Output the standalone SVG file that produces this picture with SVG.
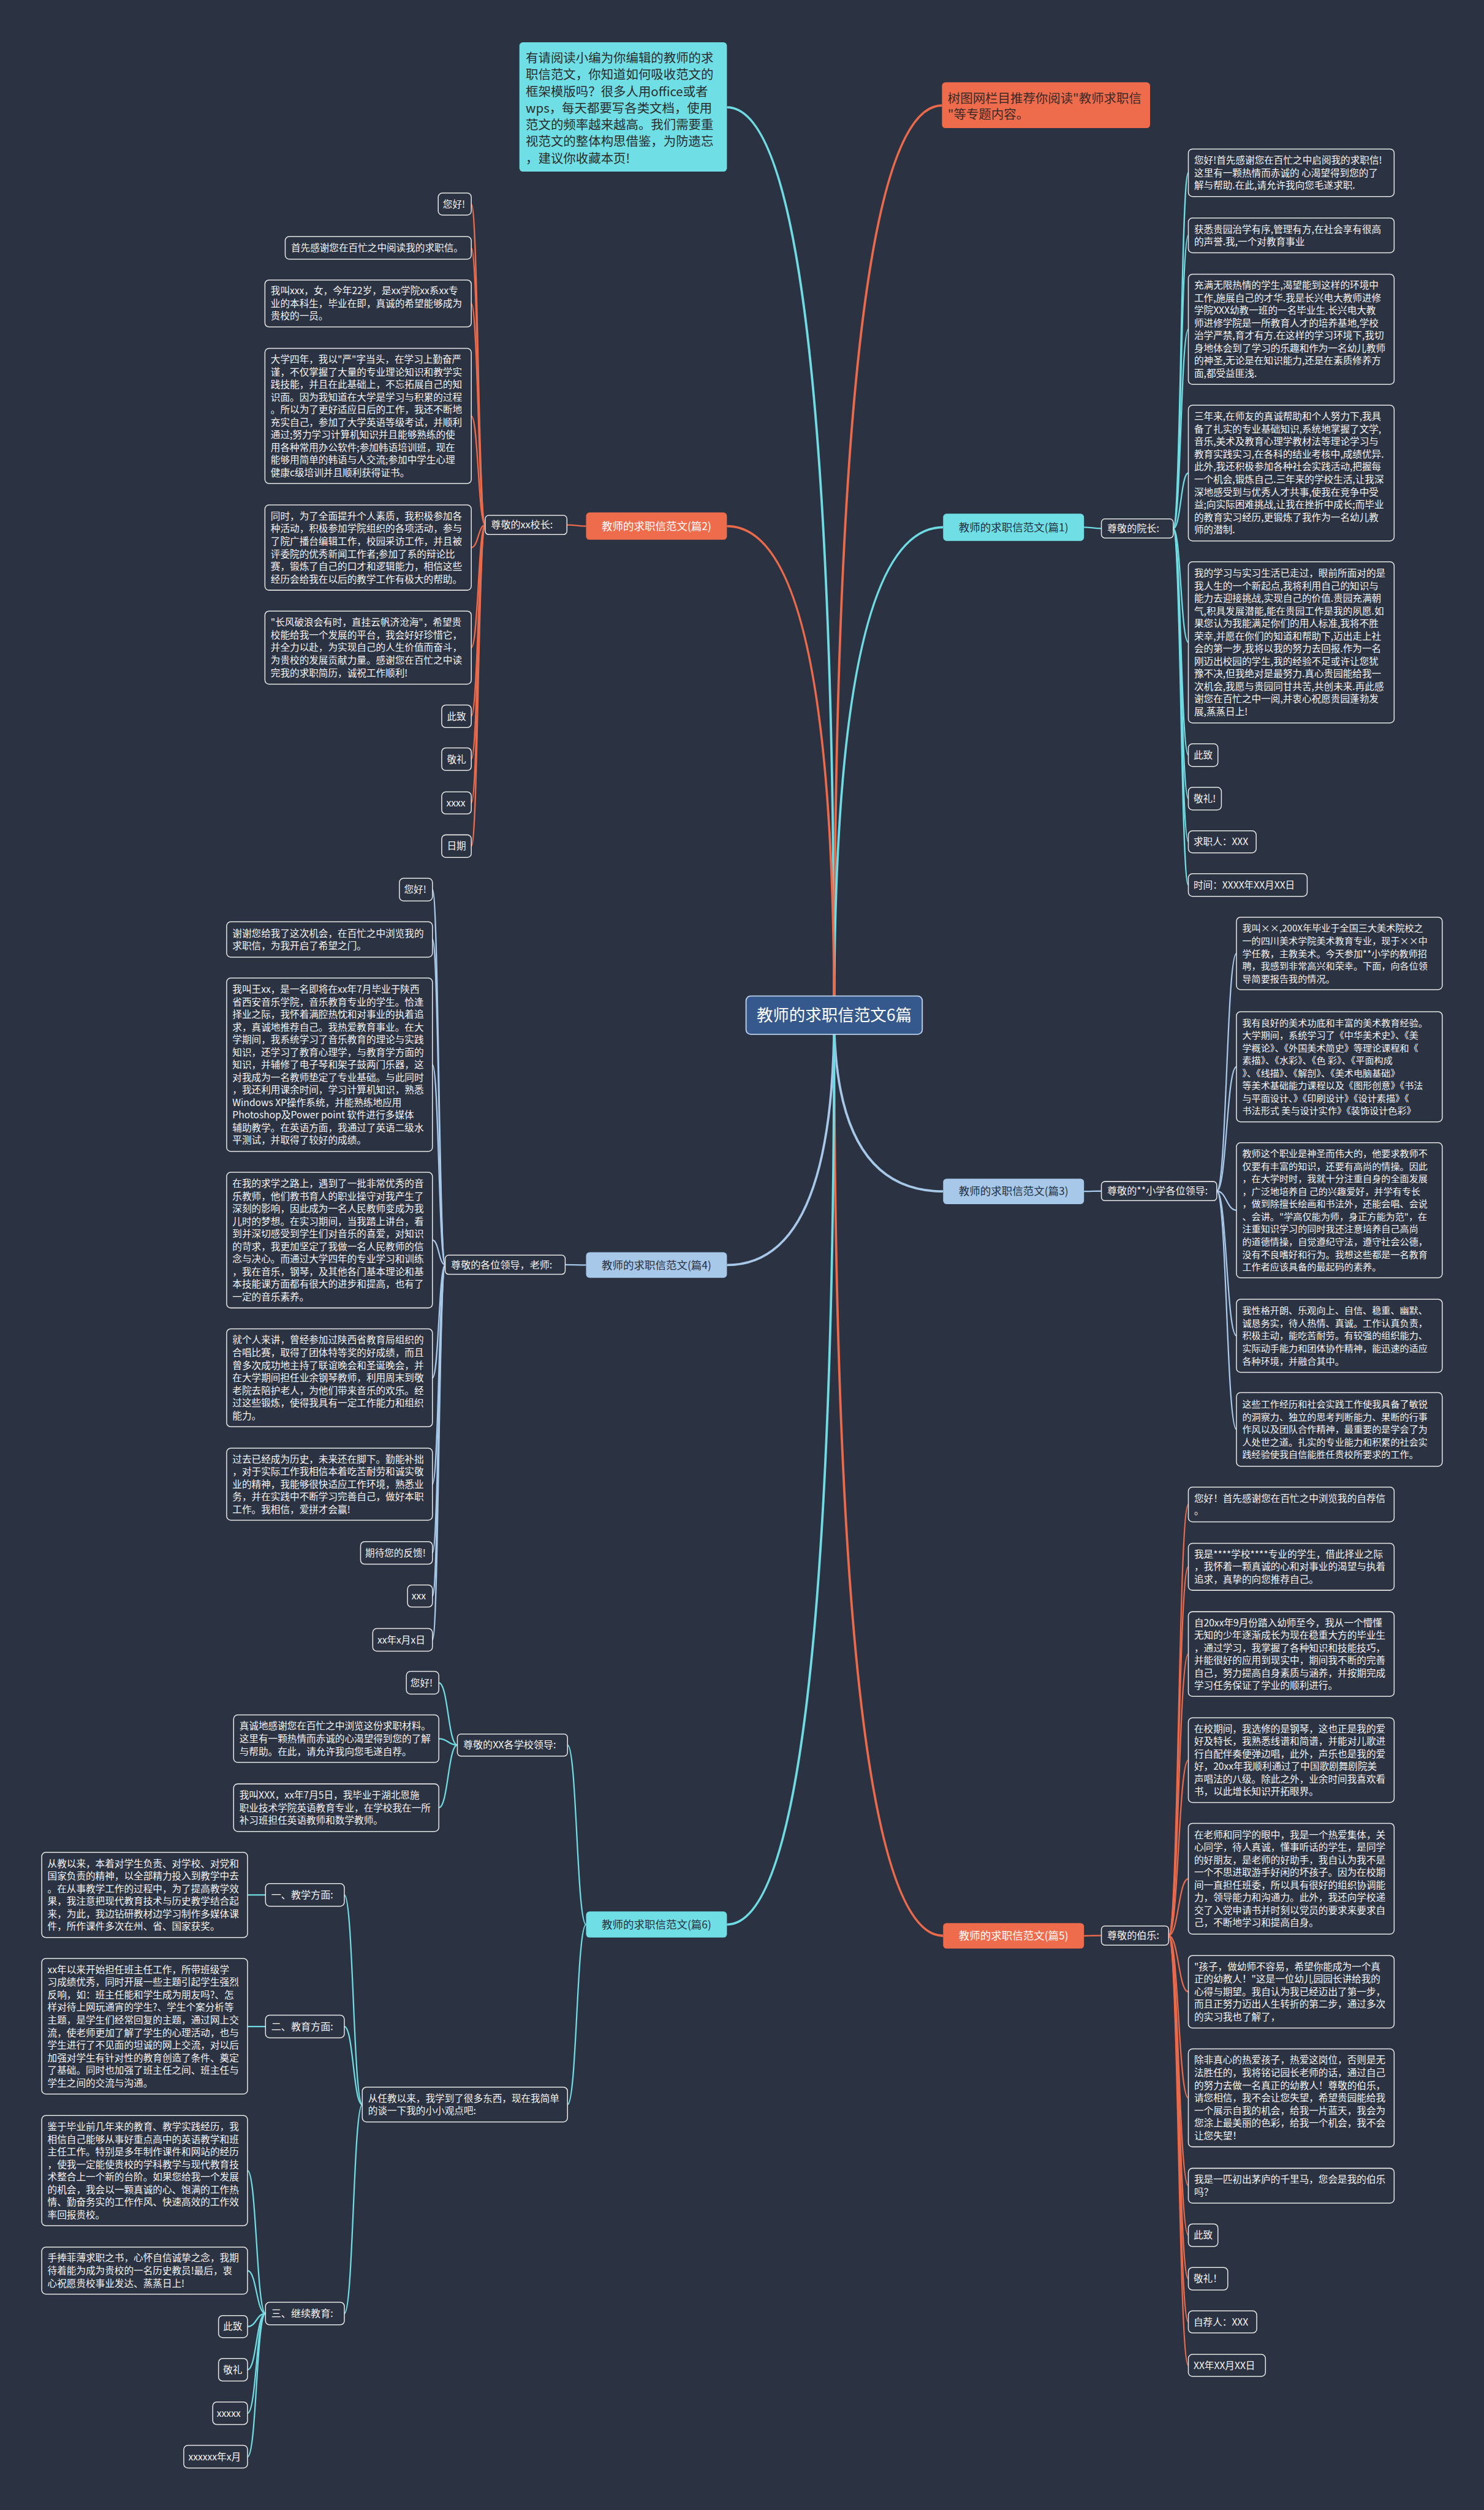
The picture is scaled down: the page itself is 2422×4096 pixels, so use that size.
<svg xmlns="http://www.w3.org/2000/svg" width="2422" height="4096" viewBox="0 0 2422 4096">
<style>
.leaf{fill:#2b3242;stroke:#e6e6e6;stroke-width:1.6}
.t{font-family:"Noto Sans CJK SC","Noto Sans",sans-serif;font-size:16.5px;fill:#f4f4f4}
.t3{font-size:16px}
.lbl{font-family:"Noto Sans CJK SC","Noto Sans",sans-serif;font-size:17px;fill:#f4f4f4}
.br{font-family:"Noto Sans CJK SC","Noto Sans",sans-serif;font-size:18.5px;text-anchor:middle}
.dark{fill:#263040}
.light{fill:#ffffff}
.cy{fill:#6fdfe5}
.or{fill:#ee6b4b}
.lb{fill:#a7c8e9}
.c-cy{fill:none;stroke:#6fdce3}
.c-or{fill:none;stroke:#ea6a4b}
.c-lb{fill:none;stroke:#a7c8e9}
.main{stroke-width:4}
.sub{stroke-width:2.4}
</style>
<rect x="0" y="0" width="2422" height="4096" fill="#2b3242"/>
<g transform="scale(0.94609)">
<g id="connectors">
<path class="c-cy main" d="M1439 1751 Q1439 185 1254 185"/>
<path class="c-or main" d="M1439 1751 Q1439 182 1625 182"/>
<path class="c-cy main" d="M1439 1751 Q1439 909.5 1627 909.5"/>
<path class="c-or main" d="M1439 1751 Q1439 907.5 1254 907.5"/>
<path class="c-lb main" d="M1439 1751 Q1439 2055 1627 2055"/>
<path class="c-lb main" d="M1439 1751 Q1439 2182 1254 2182"/>
<path class="c-or main" d="M1439 1751 Q1439 3339 1627 3339"/>
<path class="c-cy main" d="M1439 1751 Q1439 3319.5 1254 3319.5"/>
<path class="c-cy sub" d="M1870 909.5 C1885 909.5 1885 911.5 1900 911.5"/>
<path class="c-or sub" d="M1011 907.5 C995 907.5 995 905.5 978 905.5"/>
<path class="c-lb sub" d="M1870 2055 C1885 2055 1885 2054.5 1900 2054.5"/>
<path class="c-lb sub" d="M1011 2182 C993 2182 993 2181.5 975 2181.5"/>
<path class="c-or sub" d="M1870 3339 C1885 3339 1885 3338.5 1900 3338.5"/>
<path class="c-cy sub" d="M2024 911.5 C2037 911.5 2037 298 2050 298"/>
<path class="c-cy sub" d="M2024 911.5 C2037 911.5 2037 406 2050 406"/>
<path class="c-cy sub" d="M2024 911.5 C2037 911.5 2037 568 2050 568"/>
<path class="c-cy sub" d="M2024 911.5 C2037 911.5 2037 816 2050 816"/>
<path class="c-cy sub" d="M2024 911.5 C2037 911.5 2037 1108 2050 1108"/>
<path class="c-cy sub" d="M2024 911.5 C2037 911.5 2037 1302.5 2050 1302.5"/>
<path class="c-cy sub" d="M2024 911.5 C2037 911.5 2037 1377.5 2050 1377.5"/>
<path class="c-cy sub" d="M2024 911.5 C2037 911.5 2037 1452 2050 1452"/>
<path class="c-cy sub" d="M2024 911.5 C2037 911.5 2037 1526.5 2050 1526.5"/>
<path class="c-or sub" d="M837 905.5 C825 905.5 825 352 813 352"/>
<path class="c-or sub" d="M837 905.5 C825 905.5 825 427.5 813 427.5"/>
<path class="c-or sub" d="M837 905.5 C825 905.5 825 523.5 813 523.5"/>
<path class="c-or sub" d="M837 905.5 C825 905.5 825 717.5 813 717.5"/>
<path class="c-or sub" d="M837 905.5 C825 905.5 825 944.5 813 944.5"/>
<path class="c-or sub" d="M837 905.5 C825 905.5 825 1117 813 1117"/>
<path class="c-or sub" d="M837 905.5 C825 905.5 825 1235.5 813 1235.5"/>
<path class="c-or sub" d="M837 905.5 C825 905.5 825 1309.5 813 1309.5"/>
<path class="c-or sub" d="M837 905.5 C825 905.5 825 1385 813 1385"/>
<path class="c-or sub" d="M837 905.5 C825 905.5 825 1459.5 813 1459.5"/>
<path class="c-lb sub" d="M2099 2054.5 C2116 2054.5 2116 1644.5 2133 1644.5"/>
<path class="c-lb sub" d="M2099 2054.5 C2116 2054.5 2116 1840 2133 1840"/>
<path class="c-lb sub" d="M2099 2054.5 C2116 2054.5 2116 2087.5 2133 2087.5"/>
<path class="c-lb sub" d="M2099 2054.5 C2116 2054.5 2116 2304 2133 2304"/>
<path class="c-lb sub" d="M2099 2054.5 C2116 2054.5 2116 2465.5 2133 2465.5"/>
<path class="c-lb sub" d="M768 2181.5 C757 2181.5 757 1534.5 746 1534.5"/>
<path class="c-lb sub" d="M768 2181.5 C757 2181.5 757 1620.5 746 1620.5"/>
<path class="c-lb sub" d="M768 2181.5 C757 2181.5 757 1836.5 746 1836.5"/>
<path class="c-lb sub" d="M768 2181.5 C757 2181.5 757 2139 746 2139"/>
<path class="c-lb sub" d="M768 2181.5 C757 2181.5 757 2376.5 746 2376.5"/>
<path class="c-lb sub" d="M768 2181.5 C757 2181.5 757 2560 746 2560"/>
<path class="c-lb sub" d="M768 2181.5 C757 2181.5 757 2678.5 746 2678.5"/>
<path class="c-lb sub" d="M768 2181.5 C757 2181.5 757 2753 746 2753"/>
<path class="c-lb sub" d="M768 2181.5 C757 2181.5 757 2828.5 746 2828.5"/>
<path class="c-or sub" d="M2016 3338.5 C2033 3338.5 2033 2595 2050 2595"/>
<path class="c-or sub" d="M2016 3338.5 C2033 3338.5 2033 2702.5 2050 2702.5"/>
<path class="c-or sub" d="M2016 3338.5 C2033 3338.5 2033 2853 2050 2853"/>
<path class="c-or sub" d="M2016 3338.5 C2033 3338.5 2033 3036 2050 3036"/>
<path class="c-or sub" d="M2016 3338.5 C2033 3338.5 2033 3240.5 2050 3240.5"/>
<path class="c-or sub" d="M2016 3338.5 C2033 3338.5 2033 3435.5 2050 3435.5"/>
<path class="c-or sub" d="M2016 3338.5 C2033 3338.5 2033 3618.5 2050 3618.5"/>
<path class="c-or sub" d="M2016 3338.5 C2033 3338.5 2033 3770 2050 3770"/>
<path class="c-or sub" d="M2016 3338.5 C2033 3338.5 2033 3855.5 2050 3855.5"/>
<path class="c-or sub" d="M2016 3338.5 C2033 3338.5 2033 3930.5 2050 3930.5"/>
<path class="c-or sub" d="M2016 3338.5 C2033 3338.5 2033 4005 2050 4005"/>
<path class="c-or sub" d="M2016 3338.5 C2033 3338.5 2033 4080 2050 4080"/>
<path class="c-cy sub" d="M1011 3319.5 C995 3319.5 995 3010 979 3010"/>
<path class="c-cy sub" d="M1011 3319.5 C995 3319.5 995 3630 979 3630"/>
<path class="c-cy sub" d="M789 3010 C773 3010 773 2902.5 757 2902.5"/>
<path class="c-cy sub" d="M789 3010 C773 3010 773 2999 757 2999"/>
<path class="c-cy sub" d="M789 3010 C773 3010 773 3118 757 3118"/>
<path class="c-cy sub" d="M625 3630 C609.5 3630 609.5 3268.5 594 3268.5"/>
<path class="c-cy sub" d="M625 3630 C609.5 3630 609.5 3495.5 594 3495.5"/>
<path class="c-cy sub" d="M625 3630 C609.5 3630 609.5 3990.5 594 3990.5"/>
<path class="c-cy sub" d="M458 3268.5 L427 3268.5"/>
<path class="c-cy sub" d="M458 3495.5 L427 3495.5"/>
<path class="c-cy sub" d="M458 3990.5 C442.5 3990.5 442.5 3744 427 3744"/>
<path class="c-cy sub" d="M458 3990.5 C442.5 3990.5 442.5 3916.5 427 3916.5"/>
<path class="c-cy sub" d="M458 3990.5 C442.5 3990.5 442.5 4013 427 4013"/>
<path class="c-cy sub" d="M458 3990.5 C442.5 3990.5 442.5 4087.5 427 4087.5"/>
<path class="c-cy sub" d="M458 3990.5 C442.5 3990.5 442.5 4162.5 427 4162.5"/>
<path class="c-cy sub" d="M458 3990.5 C442.5 3990.5 442.5 4237.5 427 4237.5"/>
</g>

<g id="center"><rect x="1287" y="1718" width="304" height="66" rx="8" fill="#35598c" stroke="#bcd0ec" stroke-width="2"/><text class="br" x="1439" y="1761" style="font-size:28px" fill="#ffffff">教师的求职信范文6篇</text></g>

<g id="intro-left"><rect x="896" y="73" width="358" height="223" rx="6" class="cy"/>
<text class="t" style="font-size:21.6px;fill:#2b2b2b" x="907" y="108"><tspan x="907" dy="0">有请阅读小编为你编辑的教师的求</tspan><tspan x="907" dy="28.8">职信范文，你知道如何吸收范文的</tspan><tspan x="907" dy="28.8">框架模版吗？很多人用office或者</tspan><tspan x="907" dy="28.8">wps，每天都要写各类文档，使用</tspan><tspan x="907" dy="28.8">范文的频率越来越高。我们需要重</tspan><tspan x="907" dy="28.8">视范文的整体构思借鉴，为防遗忘</tspan><tspan x="907" dy="28.8">，建议你收藏本页!</tspan></text></g>

<g id="intro-right"><rect x="1625" y="142" width="359" height="79" rx="6" class="or"/>
<text class="t" style="font-size:21.6px;fill:#3a2a28" x="1635" y="178"><tspan x="1635" dy="0">树图网栏目推荐你阅读"教师求职信</tspan><tspan x="1635" dy="27">"等专题内容。</tspan></text></g>

<g id="b1"><rect x="1627" y="886" width="243" height="47" rx="6" class="cy"/><text class="br dark" x="1748.5" y="916">教师的求职信范文(篇1)</text></g>
<g id="b2"><rect x="1011" y="884" width="243" height="47" rx="6" class="or"/><text class="br light" x="1132.5" y="914">教师的求职信范文(篇2)</text></g>
<g id="b3"><rect x="1627" y="2033" width="243" height="44" rx="6" class="lb"/><text class="br dark" x="1748.5" y="2061.5">教师的求职信范文(篇3)</text></g>
<g id="b4"><rect x="1011" y="2160" width="243" height="44" rx="6" class="lb"/><text class="br dark" x="1132.5" y="2188.5">教师的求职信范文(篇4)</text></g>
<g id="b5"><rect x="1627" y="3317" width="243" height="44" rx="6" class="or"/><text class="br light" x="1748.5" y="3345.5">教师的求职信范文(篇5)</text></g>
<g id="b6"><rect x="1011" y="3297" width="243" height="45" rx="6" class="cy"/><text class="br dark" x="1132.5" y="3326">教师的求职信范文(篇6)</text></g>

<g id="l1"><rect x="1900" y="895" width="124" height="33" rx="6" class="leaf"/><text class="lbl" x="1910" y="917.5">尊敬的院长:</text></g>
<g id="l2"><rect x="837" y="889" width="141" height="33" rx="6" class="leaf"/><text class="lbl" x="847" y="911.5">尊敬的xx校长:</text></g>
<g id="l3"><rect x="1900" y="2038" width="199" height="33" rx="6" class="leaf"/><text class="lbl" x="1910" y="2060.5">尊敬的**小学各位领导:</text></g>
<g id="l4"><rect x="768" y="2165" width="207" height="33" rx="6" class="leaf"/><text class="lbl" x="778" y="2187.5">尊敬的各位领导，老师:</text></g>
<g id="l5"><rect x="1900" y="3322" width="116" height="33" rx="6" class="leaf"/><text class="lbl" x="1910" y="3344.5">尊敬的伯乐:</text></g>
<g id="l6"><rect x="789" y="2991" width="190" height="38" rx="6" class="leaf"/><text class="lbl" x="799" y="3016">尊敬的XX各学校领导:</text></g>

<g id="p1-1"><rect x="2050" y="257" width="355" height="82" rx="7" class="leaf"/><text class="t" x="2060" y="282.3"><tspan x="2060" dy="0">您好!首先感谢您在百忙之中启阅我的求职信!</tspan><tspan x="2060" dy="21.7">这里有一颗热情而赤诚的 心渴望得到您的了</tspan><tspan x="2060" dy="21.7">解与帮助.在此,请允许我向您毛遂求职.</tspan></text></g>
<g id="p1-2"><rect x="2050" y="376" width="355" height="60" rx="7" class="leaf"/><text class="t" x="2060" y="401.2"><tspan x="2060" dy="0">获悉贵园治学有序,管理有方,在社会享有很高</tspan><tspan x="2060" dy="21.7">的声誉.我,一个对教育事业</tspan></text></g>
<g id="p1-3"><rect x="2050" y="473" width="355" height="190" rx="7" class="leaf"/><text class="t" x="2060" y="498"><tspan x="2060" dy="0">充满无限热情的学生,渴望能到这样的环境中</tspan><tspan x="2060" dy="21.7">工作,施展自己的才华.我是长兴电大教师进修</tspan><tspan x="2060" dy="21.7">学院XXX幼教一班的一名毕业生.长兴电大教</tspan><tspan x="2060" dy="21.7">师进修学院是一所教育人才的培养基地,学校</tspan><tspan x="2060" dy="21.7">治学严禁,育才有方.在这样的学习环境下,我切</tspan><tspan x="2060" dy="21.7">身地体会到了学习的乐趣和作为一名幼儿教师</tspan><tspan x="2060" dy="21.7">的神圣,无论是在知识能力,还是在素质修养方</tspan><tspan x="2060" dy="21.7">面,都受益匪浅.</tspan></text></g>
<g id="p1-4"><rect x="2050" y="699" width="355" height="234" rx="7" class="leaf"/><text class="t" x="2060" y="724.4"><tspan x="2060" dy="0">三年来,在师友的真诚帮助和个人努力下,我具</tspan><tspan x="2060" dy="21.7">备了扎实的专业基础知识,系统地掌握了文学,</tspan><tspan x="2060" dy="21.7">音乐,美术及教育心理学教材法等理论学习与</tspan><tspan x="2060" dy="21.7">教育实践实习,在各科的结业考核中,成绩优异.</tspan><tspan x="2060" dy="21.7">此外,我还积极参加各种社会实践活动,把握每</tspan><tspan x="2060" dy="21.7">一个机会,锻炼自己.三年来的学校生活,让我深</tspan><tspan x="2060" dy="21.7">深地感受到与优秀人才共事,使我在竞争中受</tspan><tspan x="2060" dy="21.7">益;向实际困难挑战,让我在挫折中成长;而毕业</tspan><tspan x="2060" dy="21.7">的教育实习经历,更锻炼了我作为一名幼儿教</tspan><tspan x="2060" dy="21.7">师的潜制.</tspan></text></g>
<g id="p1-5"><rect x="2050" y="969" width="355" height="278" rx="7" class="leaf"/><text class="t" x="2060" y="994.7"><tspan x="2060" dy="0">我的学习与实习生活已走过，眼前所面对的是</tspan><tspan x="2060" dy="21.7">我人生的一个新起点,我将利用自己的知识与</tspan><tspan x="2060" dy="21.7">能力去迎接挑战,实现自己的价值.贵园充满朝</tspan><tspan x="2060" dy="21.7">气,积具发展潜能,能在贵园工作是我的夙愿.如</tspan><tspan x="2060" dy="21.7">果您认为我能满足你们的用人标准,我将不胜</tspan><tspan x="2060" dy="21.7">荣幸,并愿在你们的知道和帮助下,迈出走上社</tspan><tspan x="2060" dy="21.7">会的第一步,我将以我的努力去回报.作为一名</tspan><tspan x="2060" dy="21.7">刚迈出校园的学生,我的经验不足或许让您犹</tspan><tspan x="2060" dy="21.7">豫不决,但我绝对是最努力.真心贵园能给我一</tspan><tspan x="2060" dy="21.7">次机会,我愿与贵园同甘共苦,共创未来.再此感</tspan><tspan x="2060" dy="21.7">谢您在百忙之中一阅,并衷心祝愿贵园蓬勃发</tspan><tspan x="2060" dy="21.7">展,蒸蒸日上!</tspan></text></g>
<g id="p1-6"><rect x="2050" y="1283" width="51" height="39" rx="7" class="leaf"/><text class="t" x="2059" y="1308.5">此致</text></g>
<g id="p1-7"><rect x="2050" y="1358" width="57" height="39" rx="7" class="leaf"/><text class="t" x="2059" y="1383.5">敬礼!</text></g>
<g id="p1-8"><rect x="2050" y="1433" width="117" height="38" rx="7" class="leaf"/><text class="t" x="2059" y="1458">求职人：XXX</text></g>
<g id="p1-9"><rect x="2050" y="1507" width="205" height="39" rx="7" class="leaf"/><text class="t" x="2059" y="1532.5">时间：XXXX年XX月XX日</text></g>

<g id="p2-1"><rect x="756" y="333" width="57" height="38" rx="7" class="leaf"/><text class="t" x="764" y="358">您好!</text></g>
<g id="p2-2"><rect x="492" y="408" width="321" height="39" rx="7" class="leaf"/><text class="t" x="502" y="433.5">首先感谢您在百忙之中阅读我的求职信。</text></g>
<g id="p2-3"><rect x="457" y="483" width="356" height="81" rx="7" class="leaf"/><text class="t" x="467" y="507.8"><tspan x="467" dy="0">我叫xxx，女，今年22岁，是xx学院xx系xx专</tspan><tspan x="467" dy="21.7">业的本科生，毕业在即，真诚的希望能够成为</tspan><tspan x="467" dy="21.7">贵校的一员。</tspan></text></g>
<g id="p2-4"><rect x="457" y="601" width="356" height="233" rx="7" class="leaf"/><text class="t" x="467" y="625.9"><tspan x="467" dy="0">大学四年，我以"严"字当头，在学习上勤奋严</tspan><tspan x="467" dy="21.7">谨，不仅掌握了大量的专业理论知识和教学实</tspan><tspan x="467" dy="21.7">践技能，并且在此基础上，不忘拓展自己的知</tspan><tspan x="467" dy="21.7">识面。因为我知道在大学是学习与积累的过程</tspan><tspan x="467" dy="21.7">。所以为了更好适应日后的工作，我还不断地</tspan><tspan x="467" dy="21.7">充实自己，参加了大学英语等级考试，并顺利</tspan><tspan x="467" dy="21.7">通过;努力学习计算机知识并且能够熟练的使</tspan><tspan x="467" dy="21.7">用各种常用办公软件;参加韩语培训班，现在</tspan><tspan x="467" dy="21.7">能够用简单的韩语与人交流;参加中学生心理</tspan><tspan x="467" dy="21.7">健康c级培训并且顺利获得证书。</tspan></text></g>
<g id="p2-5"><rect x="457" y="871" width="356" height="147" rx="7" class="leaf"/><text class="t" x="467" y="896.3"><tspan x="467" dy="0">同时，为了全面提升个人素质，我积极参加各</tspan><tspan x="467" dy="21.7">种活动，积极参加学院组织的各项活动，参与</tspan><tspan x="467" dy="21.7">了院广播台编辑工作，校园采访工作，并且被</tspan><tspan x="467" dy="21.7">评委院的优秀新闻工作者;参加了系的辩论比</tspan><tspan x="467" dy="21.7">赛，锻炼了自己的口才和逻辑能力，相信这些</tspan><tspan x="467" dy="21.7">经历会给我在以后的教学工作有极大的帮助。</tspan></text></g>
<g id="p2-6"><rect x="457" y="1054" width="356" height="126" rx="7" class="leaf"/><text class="t" x="467" y="1079.6"><tspan x="467" dy="0">"长风破浪会有时，直挂云帆济沧海"，希望贵</tspan><tspan x="467" dy="21.7">校能给我一个发展的平台，我会好好珍惜它，</tspan><tspan x="467" dy="21.7">并全力以赴，为实现自己的人生价值而奋斗，</tspan><tspan x="467" dy="21.7">为贵校的发展贡献力量。感谢您在百忙之中读</tspan><tspan x="467" dy="21.7">完我的求职简历，诚祝工作顺利!</tspan></text></g>
<g id="p2-7"><rect x="762" y="1216" width="51" height="39" rx="7" class="leaf"/><text class="t" x="771" y="1241.5">此致</text></g>
<g id="p2-8"><rect x="762" y="1290" width="51" height="39" rx="7" class="leaf"/><text class="t" x="771" y="1315.5">敬礼</text></g>
<g id="p2-9"><rect x="762" y="1366" width="51" height="38" rx="7" class="leaf"/><text class="t" x="770" y="1391">xxxx</text></g>
<g id="p2-10"><rect x="762" y="1440" width="51" height="39" rx="7" class="leaf"/><text class="t" x="771" y="1465.5">日期</text></g>

<g id="p3-1"><rect x="2133" y="1582" width="355" height="125" rx="7" class="leaf"/><text class="t t3" x="2143" y="1607.1"><tspan x="2143" dy="0">我叫××,200X年毕业于全国三大美术院校之</tspan><tspan x="2143" dy="21.7">一的四川美术学院美术教育专业，现于××中</tspan><tspan x="2143" dy="21.7">学任教，主教美术。今天参加**小学的教师招</tspan><tspan x="2143" dy="21.7">聘，我感到非常高兴和荣幸。下面，向各位领</tspan><tspan x="2143" dy="21.7">导简要报告我的情况。</tspan></text></g>
<g id="p3-2"><rect x="2133" y="1745" width="355" height="190" rx="7" class="leaf"/><text class="t t3" x="2143" y="1770.1"><tspan x="2143" dy="0">我有良好的美术功底和丰富的美术教育经验。</tspan><tspan x="2143" dy="21.7">大学期间，系统学习了《中华美术史》、《美</tspan><tspan x="2143" dy="21.7">学概论》、《外国美术简史》等理论课程和《</tspan><tspan x="2143" dy="21.7">素描》、《水彩》、《色 彩》、《平面构成</tspan><tspan x="2143" dy="21.7">》、《线描》、《解剖》、《美术电脑基础》</tspan><tspan x="2143" dy="21.7">等美术基础能力课程以及《图形创意》《书法</tspan><tspan x="2143" dy="21.7">与平面设计、》《印刷设计》《设计素描》《</tspan><tspan x="2143" dy="21.7">书法形式 美与设计实作》《装饰设计色彩》</tspan></text></g>
<g id="p3-3"><rect x="2133" y="1971" width="355" height="233" rx="7" class="leaf"/><text class="t t3" x="2143" y="1995.9"><tspan x="2143" dy="0">教师这个职业是神圣而伟大的，他要求教师不</tspan><tspan x="2143" dy="21.7">仅要有丰富的知识，还要有高尚的情操。因此</tspan><tspan x="2143" dy="21.7">，在大学时时，我就十分注重自身的全面发展</tspan><tspan x="2143" dy="21.7">，广泛地培养自 己的兴趣爱好，并学有专长</tspan><tspan x="2143" dy="21.7">，做到除擅长绘画和书法外，还能会唱、会说</tspan><tspan x="2143" dy="21.7">、会讲。"学高仅能为师，身正方能为范"，在</tspan><tspan x="2143" dy="21.7">注重知识学习的同时我还注意培养自己高尚</tspan><tspan x="2143" dy="21.7">的道德情操，自觉遵纪守法，遵守社会公德，</tspan><tspan x="2143" dy="21.7">没有不良嗜好和行为。我想这些都是一名教育</tspan><tspan x="2143" dy="21.7">工作者应该具备的最起码的素养。</tspan></text></g>
<g id="p3-4"><rect x="2133" y="2241" width="355" height="126" rx="7" class="leaf"/><text class="t t3" x="2143" y="2266.6"><tspan x="2143" dy="0">我性格开朗、乐观向上、自信、稳重、幽默、</tspan><tspan x="2143" dy="21.7">诚恳务实，待人热情、真诚。工作认真负责，</tspan><tspan x="2143" dy="21.7">积极主动，能吃苦耐劳。有较强的组织能力、</tspan><tspan x="2143" dy="21.7">实际动手能力和团体协作精神，能迅速的适应</tspan><tspan x="2143" dy="21.7">各种环境，并融合其中。</tspan></text></g>
<g id="p3-5"><rect x="2133" y="2402" width="355" height="127" rx="7" class="leaf"/><text class="t t3" x="2143" y="2428.1"><tspan x="2143" dy="0">这些工作经历和社会实践工作使我具备了敏锐</tspan><tspan x="2143" dy="21.7">的洞察力、独立的思考判断能力、果断的行事</tspan><tspan x="2143" dy="21.7">作风以及团队合作精神，最重要的是学会了为</tspan><tspan x="2143" dy="21.7">人处世之道。扎实的专业能力和积累的社会实</tspan><tspan x="2143" dy="21.7">践经验使我自信能胜任贵校所要求的工作。</tspan></text></g>

<g id="p4-1"><rect x="689" y="1515" width="57" height="39" rx="7" class="leaf"/><text class="t" x="697" y="1540.5">您好!</text></g>
<g id="p4-2"><rect x="391" y="1590" width="355" height="61" rx="7" class="leaf"/><text class="t" x="401" y="1615.7"><tspan x="401" dy="0">谢谢您给我了这次机会，在百忙之中浏览我的</tspan><tspan x="401" dy="21.7">求职信，为我开启了希望之门。</tspan></text></g>
<g id="p4-3"><rect x="391" y="1687" width="355" height="299" rx="7" class="leaf"/><text class="t" x="401" y="1712.3"><tspan x="401" dy="0">我叫王xx，是一名即将在xx年7月毕业于陕西</tspan><tspan x="401" dy="21.7">省西安音乐学院，音乐教育专业的学生。恰逢</tspan><tspan x="401" dy="21.7">择业之际，我怀着满腔热忱和对事业的执着追</tspan><tspan x="401" dy="21.7">求，真诚地推荐自己。我热爱教育事业。在大</tspan><tspan x="401" dy="21.7">学期间，我系统学习了音乐教育的理论与实践</tspan><tspan x="401" dy="21.7">知识，还学习了教育心理学，与教育学方面的</tspan><tspan x="401" dy="21.7">知识，并辅修了电子琴和架子鼓两门乐器，这</tspan><tspan x="401" dy="21.7">对我成为一名教师垫定了专业基础。与此同时</tspan><tspan x="401" dy="21.7">，我还利用课余时间，学习计算机知识，熟悉</tspan><tspan x="401" dy="21.7">Windows XP操作系统，并能熟练地应用</tspan><tspan x="401" dy="21.7">Photoshop及Power point 软件进行多媒体</tspan><tspan x="401" dy="21.7">辅助教学。在英语方面，我通过了英语二级水</tspan><tspan x="401" dy="21.7">平测试，并取得了较好的成绩。</tspan></text></g>
<g id="p4-4"><rect x="391" y="2022" width="355" height="234" rx="7" class="leaf"/><text class="t" x="401" y="2047.4"><tspan x="401" dy="0">在我的求学之路上，遇到了一批非常优秀的音</tspan><tspan x="401" dy="21.7">乐教师，他们教书育人的职业操守对我产生了</tspan><tspan x="401" dy="21.7">深刻的影响，因此成为一名人民教师变成为我</tspan><tspan x="401" dy="21.7">儿时的梦想。在实习期间，当我踏上讲台，看</tspan><tspan x="401" dy="21.7">到并深切感受到学生们对音乐的喜爱，对知识</tspan><tspan x="401" dy="21.7">的苛求，我更加坚定了我做一名人民教师的信</tspan><tspan x="401" dy="21.7">念与决心。而通过大学四年的专业学习和训练</tspan><tspan x="401" dy="21.7">，我在音乐，钢琴，及其他各门基本理论和基</tspan><tspan x="401" dy="21.7">本技能课方面都有很大的进步和提高，也有了</tspan><tspan x="401" dy="21.7">一定的音乐素养。</tspan></text></g>
<g id="p4-5"><rect x="391" y="2292" width="355" height="169" rx="7" class="leaf"/><text class="t" x="401" y="2317.4"><tspan x="401" dy="0">就个人来讲，曾经参加过陕西省教育局组织的</tspan><tspan x="401" dy="21.7">合唱比赛，取得了团体特等奖的好成绩，而且</tspan><tspan x="401" dy="21.7">曾多次成功地主持了联谊晚会和圣诞晚会，并</tspan><tspan x="401" dy="21.7">在大学期间担任业余钢琴教师，利用周末到敬</tspan><tspan x="401" dy="21.7">老院去陪护老人，为他们带来音乐的欢乐。经</tspan><tspan x="401" dy="21.7">过这些锻炼，使得我具有一定工作能力和组织</tspan><tspan x="401" dy="21.7">能力。</tspan></text></g>
<g id="p4-6"><rect x="391" y="2498" width="355" height="124" rx="7" class="leaf"/><text class="t" x="401" y="2522.6"><tspan x="401" dy="0">过去已经成为历史，未来还在脚下。勤能补拙</tspan><tspan x="401" dy="21.7">，对于实际工作我相信本着吃苦耐劳和诚实敬</tspan><tspan x="401" dy="21.7">业的精神，我能够很快适应工作环境，熟悉业</tspan><tspan x="401" dy="21.7">务，并在实践中不断学习完善自己，做好本职</tspan><tspan x="401" dy="21.7">工作。我相信，爱拼才会赢!</tspan></text></g>
<g id="p4-7"><rect x="622" y="2659" width="124" height="39" rx="7" class="leaf"/><text class="t" x="630" y="2684.5">期待您的反馈!</text></g>
<g id="p4-8"><rect x="703" y="2734" width="43" height="38" rx="7" class="leaf"/><text class="t" x="710" y="2759">xxx</text></g>
<g id="p4-9"><rect x="643" y="2809" width="103" height="39" rx="7" class="leaf"/><text class="t" x="651" y="2834.5">xx年x月x日</text></g>

<g id="p5-1"><rect x="2050" y="2565" width="355" height="60" rx="7" class="leaf"/><text class="t" x="2060" y="2590.2"><tspan x="2060" dy="0">您好！首先感谢您在百忙之中浏览我的自荐信</tspan><tspan x="2060" dy="21.7">。</tspan></text></g>
<g id="p5-2"><rect x="2050" y="2662" width="355" height="81" rx="7" class="leaf"/><text class="t" x="2060" y="2686.8"><tspan x="2060" dy="0">我是****学校****专业的学生，借此择业之际</tspan><tspan x="2060" dy="21.7">，我怀着一颗真诚的心和对事业的渴望与执着</tspan><tspan x="2060" dy="21.7">追求，真挚的向您推荐自己。</tspan></text></g>
<g id="p5-3"><rect x="2050" y="2780" width="355" height="146" rx="7" class="leaf"/><text class="t" x="2060" y="2804.8"><tspan x="2060" dy="0">自20xx年9月份踏入幼师至今，我从一个懵懂</tspan><tspan x="2060" dy="21.7">无知的少年逐渐成长为现在稳重大方的毕业生</tspan><tspan x="2060" dy="21.7">，通过学习，我掌握了各种知识和技能技巧，</tspan><tspan x="2060" dy="21.7">并能很好的应用到现实中，期间我不断的完善</tspan><tspan x="2060" dy="21.7">自己，努力提高自身素质与涵养，并按期完成</tspan><tspan x="2060" dy="21.7">学习任务保证了学业的顺利进行。</tspan></text></g>
<g id="p5-4"><rect x="2050" y="2963" width="355" height="146" rx="7" class="leaf"/><text class="t" x="2060" y="2987.8"><tspan x="2060" dy="0">在校期间，我选修的是钢琴，这也正是我的爱</tspan><tspan x="2060" dy="21.7">好及特长，我熟悉线谱和简谱，并能对儿歌进</tspan><tspan x="2060" dy="21.7">行自配伴奏便弹边唱，此外，声乐也是我的爱</tspan><tspan x="2060" dy="21.7">好，20xx年我顺利通过了中国歌剧舞剧院美</tspan><tspan x="2060" dy="21.7">声唱法的八级。除此之外，业余时间我喜欢看</tspan><tspan x="2060" dy="21.7">书，以此增长知识开拓眼界。</tspan></text></g>
<g id="p5-5"><rect x="2050" y="3145" width="355" height="191" rx="7" class="leaf"/><text class="t" x="2060" y="3170.6"><tspan x="2060" dy="0">在老师和同学的眼中，我是一个热爱集体，关</tspan><tspan x="2060" dy="21.7">心同学，待人真诚，懂事听话的学生，是同学</tspan><tspan x="2060" dy="21.7">的好朋友，是老师的好助手，我自认为我不是</tspan><tspan x="2060" dy="21.7">一个不思进取游手好闲的坏孩子。因为在校期</tspan><tspan x="2060" dy="21.7">间一直担任班委，所以具有很好的组织协调能</tspan><tspan x="2060" dy="21.7">力，领导能力和沟通力。此外，我还向学校递</tspan><tspan x="2060" dy="21.7">交了入党申请书并时刻以党员的要求来要求自</tspan><tspan x="2060" dy="21.7">己，不断地学习和提高自身。</tspan></text></g>
<g id="p5-6"><rect x="2050" y="3373" width="355" height="125" rx="7" class="leaf"/><text class="t" x="2060" y="3398.1"><tspan x="2060" dy="0">"孩子，做幼师不容易，希望你能成为一个真</tspan><tspan x="2060" dy="21.7">正的幼教人！"这是一位幼儿园园长讲给我的</tspan><tspan x="2060" dy="21.7">心得与期望。我自认为我已经迈出了第一步，</tspan><tspan x="2060" dy="21.7">而且正努力迈出人生转折的第二步，通过多次</tspan><tspan x="2060" dy="21.7">的实习我也了解了，</tspan></text></g>
<g id="p5-7"><rect x="2050" y="3534" width="355" height="169" rx="7" class="leaf"/><text class="t" x="2060" y="3559.4"><tspan x="2060" dy="0">除非真心的热爱孩子，热爱这岗位，否则是无</tspan><tspan x="2060" dy="21.7">法胜任的，我将铭记园长老师的话，通过自己</tspan><tspan x="2060" dy="21.7">的努力去做一名真正的幼教人！尊敬的伯乐，</tspan><tspan x="2060" dy="21.7">请您相信，我不会让您失望，希望贵园能给我</tspan><tspan x="2060" dy="21.7">一个展示自我的机会，给我一片蓝天，我会为</tspan><tspan x="2060" dy="21.7">您涂上最美丽的色彩，给我一个机会，我不会</tspan><tspan x="2060" dy="21.7">让您失望！</tspan></text></g>
<g id="p5-8"><rect x="2050" y="3740" width="355" height="60" rx="7" class="leaf"/><text class="t" x="2060" y="3765.2"><tspan x="2060" dy="0">我是一匹初出茅庐的千里马，您会是我的伯乐</tspan><tspan x="2060" dy="21.7">吗？</tspan></text></g>
<g id="p5-9"><rect x="2050" y="3836" width="51" height="39" rx="7" class="leaf"/><text class="t" x="2059" y="3861.5">此致</text></g>
<g id="p5-10"><rect x="2050" y="3911" width="68" height="39" rx="7" class="leaf"/><text class="t" x="2059" y="3936.5">敬礼！</text></g>
<g id="p5-11"><rect x="2050" y="3986" width="118" height="38" rx="7" class="leaf"/><text class="t" x="2059" y="4011">自荐人：XXX</text></g>
<g id="p5-12"><rect x="2050" y="4061" width="133" height="38" rx="7" class="leaf"/><text class="t" x="2059" y="4086">XX年XX月XX日</text></g>

<g id="p6-1"><rect x="701" y="2883" width="56" height="39" rx="7" class="leaf"/><text class="t" x="708" y="2908.5">您好!</text></g>
<g id="p6-2"><rect x="403" y="2958" width="354" height="82" rx="7" class="leaf"/><text class="t" x="413" y="2983.3"><tspan x="413" dy="0">真诚地感谢您在百忙之中浏览这份求职材料。</tspan><tspan x="413" dy="21.7">这里有一颗热情而赤诚的心渴望得到您的了解</tspan><tspan x="413" dy="21.7">与帮助。在此，请允许我向您毛遂自荐。</tspan></text></g>
<g id="p6-3"><rect x="403" y="3077" width="354" height="82" rx="7" class="leaf"/><text class="t" x="413" y="3102.3"><tspan x="413" dy="0">我叫XXX，xx年7月5日，我毕业于湖北恩施</tspan><tspan x="413" dy="21.7">职业技术学院英语教育专业，在学校我在一所</tspan><tspan x="413" dy="21.7">补习班担任英语教师和数学教师。</tspan></text></g>
<g id="p6-4"><rect x="625" y="3600" width="354" height="60" rx="7" class="leaf"/><text class="t" x="635" y="3625.2"><tspan x="635" dy="0">从任教以来，我学到了很多东西，现在我简单</tspan><tspan x="635" dy="21.7">的谈一下我的小小观点吧:</tspan></text></g>
<g id="p6-5"><rect x="458" y="3249" width="136" height="39" rx="7" class="leaf"/><text class="lbl" x="468" y="3274.5">一、教学方面:</text></g>
<g id="p6-6"><rect x="458" y="3476" width="136" height="39" rx="7" class="leaf"/><text class="lbl" x="468" y="3501.5">二、教育方面:</text></g>
<g id="p6-7"><rect x="458" y="3971" width="136" height="39" rx="7" class="leaf"/><text class="lbl" x="468" y="3996.5">三、继续教育:</text></g>
<g id="p6-8"><rect x="72" y="3195" width="355" height="147" rx="7" class="leaf"/><text class="t" x="82" y="3220.3"><tspan x="82" dy="0">从教以来，本着对学生负责、对学校、对党和</tspan><tspan x="82" dy="21.7">国家负责的精神，以全部精力投入到教学中去</tspan><tspan x="82" dy="21.7">。在从事教学工作的过程中，为了提高教学效</tspan><tspan x="82" dy="21.7">果，我注意把现代教育技术与历史教学结合起</tspan><tspan x="82" dy="21.7">来，为此，我边钻研教材边学习制作多媒体课</tspan><tspan x="82" dy="21.7">件，所作课件多次在州、省、国家获奖。</tspan></text></g>
<g id="p6-9"><rect x="72" y="3378" width="355" height="234" rx="7" class="leaf"/><text class="t" x="82" y="3403.4"><tspan x="82" dy="0">xx年以来开始担任班主任工作，所带班级学</tspan><tspan x="82" dy="21.7">习成绩优秀，同时开展一些主题引起学生强烈</tspan><tspan x="82" dy="21.7">反响，如：班主任能和学生成为朋友吗?、怎</tspan><tspan x="82" dy="21.7">样对待上网玩通宵的学生?、学生个案分析等</tspan><tspan x="82" dy="21.7">主题，是学生们经常回复的主题，通过网上交</tspan><tspan x="82" dy="21.7">流，使老师更加了解了学生的心理活动，也与</tspan><tspan x="82" dy="21.7">学生进行了不见面的坦诚的网上交流，对以后</tspan><tspan x="82" dy="21.7">加强对学生有针对性的教育创造了条件、奠定</tspan><tspan x="82" dy="21.7">了基础。同时也加强了班主任之间、班主任与</tspan><tspan x="82" dy="21.7">学生之间的交流与沟通。</tspan></text></g>
<g id="p6-10"><rect x="72" y="3649" width="355" height="190" rx="7" class="leaf"/><text class="t" x="82" y="3674.1"><tspan x="82" dy="0">鉴于毕业前几年来的教育、教学实践经历，我</tspan><tspan x="82" dy="21.7">相信自己能够从事好重点高中的英语教学和班</tspan><tspan x="82" dy="21.7">主任工作。特别是多年制作课件和网站的经历</tspan><tspan x="82" dy="21.7">，使我一定能使贵校的学科教学与现代教育技</tspan><tspan x="82" dy="21.7">术整合上一个新的台阶。如果您给我一个发展</tspan><tspan x="82" dy="21.7">的机会，我会以一颗真诚的心、饱满的工作热</tspan><tspan x="82" dy="21.7">情、勤奋务实的工作作风、快速高效的工作效</tspan><tspan x="82" dy="21.7">率回报贵校。</tspan></text></g>
<g id="p6-11"><rect x="72" y="3876" width="355" height="81" rx="7" class="leaf"/><text class="t" x="82" y="3900.8"><tspan x="82" dy="0">手捧菲薄求职之书，心怀自信诚挚之念，我期</tspan><tspan x="82" dy="21.7">待着能为成为贵校的一名历史教员!最后，衷</tspan><tspan x="82" dy="21.7">心祝愿贵校事业发达、蒸蒸日上!</tspan></text></g>
<g id="p6-12"><rect x="377" y="3994" width="50" height="38" rx="7" class="leaf"/><text class="t" x="385" y="4019">此致</text></g>
<g id="p6-13"><rect x="377" y="4068" width="50" height="39" rx="7" class="leaf"/><text class="t" x="385" y="4093.5">敬礼</text></g>
<g id="p6-14"><rect x="367" y="4143" width="60" height="39" rx="7" class="leaf"/><text class="t" x="374" y="4168.5">xxxxx</text></g>
<g id="p6-15"><rect x="317" y="4218" width="110" height="39" rx="7" class="leaf"/><text class="t" x="325" y="4243.5">xxxxxx年x月</text></g>
</g>
</svg>
